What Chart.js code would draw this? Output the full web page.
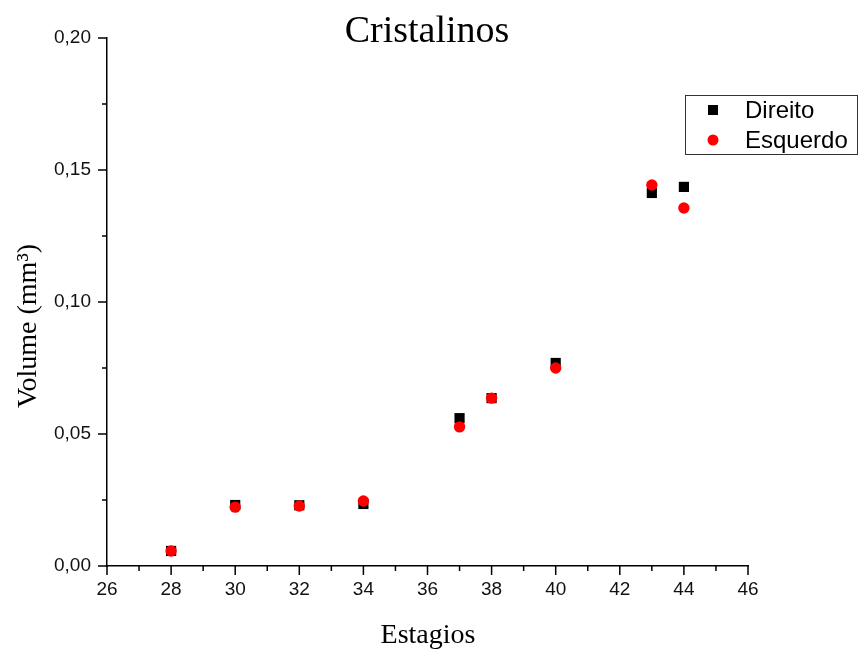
<!DOCTYPE html>
<html>
<head>
<meta charset="utf-8">
<title>Cristalinos</title>
<script src="https://cdn.jsdelivr.net/npm/chart.js"></script>
<style>
  html, body { margin:0; padding:0; background:#fff; }
  #wrap { width:859px; height:655px; position:relative; }
</style>
</head>
<body>
<div id="wrap"><canvas id="chart"></canvas></div>
<script>
// estagios e volumes
const estagios = [28, 30, 32, 34, 37, 38, 40, 43, 44];
const direito  = [0.0057, 0.0231, 0.0230, 0.0235, 0.0560, 0.0636, 0.0769, 0.1413, 0.1436];
const esquerdo = [0.0057, 0.0223, 0.0227, 0.0246, 0.0527, 0.0636, 0.0750, 0.1443, 0.1356];

const xTicks = [26, 28, 30, 32, 34, 36, 38, 40, 42, 44, 46];
const yTicks = [0, 0.05, 0.10, 0.15, 0.20];

const toPts = vals => estagios.map((x, i) => ({ x: x, y: vals[i] }));

const serif = "'Liberation Serif', 'Times New Roman', serif";
const sans = "'Liberation Sans', Arial, sans-serif";

// titulos, ticks (maiores e menores) e legenda
const extras = {
  id: 'extras',
  afterDraw(chart) {
    const ctx = chart.ctx;
    const xs = chart.scales.x, ys = chart.scales.y;
    const area = chart.chartArea;
    ctx.save();
    ctx.strokeStyle = '#000';
    ctx.lineWidth = 1.5;
    ctx.beginPath();
    for (let v = 26; v <= 46; v += 1) {
      const px = xs.getPixelForValue(v);
      const len = v % 2 === 0 ? 9 : 5;
      ctx.moveTo(px, area.bottom);
      ctx.lineTo(px, area.bottom + len);
    }
    for (let k = 0; k <= 8; k++) {
      const py = ys.getPixelForValue(k * 0.025);
      const len = k % 2 === 0 ? 9 : 5;
      ctx.moveTo(area.left, py);
      ctx.lineTo(area.left - len, py);
    }
    ctx.stroke();

    ctx.fillStyle = '#000';
    ctx.textAlign = 'center';
    ctx.textBaseline = 'alphabetic';
    ctx.font = '38px ' + serif;
    ctx.fillText('Cristalinos', 427, 42);
    ctx.font = '28px ' + serif;
    ctx.fillText('Estagios', 428, 643);
    ctx.translate(36, 326);
    ctx.rotate(-Math.PI / 2);
    ctx.fillText('Volume (mm\u00B3)', 0, 0);
    ctx.restore();

    // legenda
    ctx.save();
    ctx.fillStyle = '#fff';
    ctx.fillRect(685, 95, 173, 60);
    ctx.strokeStyle = '#333';
    ctx.lineWidth = 1;
    ctx.strokeRect(685.5, 95.5, 172, 59);
    ctx.font = '24px ' + sans;
    ctx.textAlign = 'left';
    ctx.textBaseline = 'middle';
    chart.data.datasets.forEach((ds, i) => {
      const cy = 110 + i * 30;
      ctx.fillStyle = ds.backgroundColor;
      if (ds.pointStyle === 'rect') {
        ctx.fillRect(708, cy - 5, 10, 10);
      } else {
        ctx.beginPath();
        ctx.arc(713, cy, 5.5, 0, Math.PI * 2);
        ctx.fill();
      }
      ctx.fillStyle = '#000';
      ctx.fillText(ds.label, 745, cy + 1);
    });
    ctx.restore();
  }
};

new Chart(document.getElementById('chart'), {
  type: 'scatter',
  data: {
    datasets: [
      { label: 'Direito', data: toPts(direito), pointStyle: 'rect', order: 1,
        backgroundColor: '#000', borderColor: '#000', borderWidth: 0, pointRadius: 7.2 },
      { label: 'Esquerdo', data: toPts(esquerdo), pointStyle: 'circle', order: 0,
        backgroundColor: '#f00', borderColor: '#f00', borderWidth: 0, pointRadius: 5.7 }
    ]
  },
  plugins: [extras],
  options: {
    responsive: true,
    maintainAspectRatio: false,
    animation: false,
    layout: { padding: { left: 0, right: 111, top: 38, bottom: 0 } },
    plugins: { legend: { display: false }, tooltip: { enabled: false }, title: { display: false } },
    scales: {
      x: {
        type: 'linear', min: 26, max: 46,
        afterBuildTicks: s => { s.ticks = xTicks.map(v => ({ value: v })); },
        afterFit: s => { s.height = 89; },
        grid: { display: false },
        border: { display: true, color: '#000', width: 1.5 },
        ticks: { padding: 4, color: '#111', font: { family: sans, size: 19 }, maxRotation: 0 }
      },
      y: {
        type: 'linear', min: 0, max: 0.2,
        afterBuildTicks: s => { s.ticks = yTicks.map(v => ({ value: v })); },
        afterFit: s => { s.width = 107; },
        grid: { display: false },
        border: { display: true, color: '#000', width: 1.5 },
        ticks: { padding: 8, color: '#111', font: { family: sans, size: 19 },
          callback: v => v.toFixed(2).replace('.', ',') }
      }
    }
  }
});
</script>
</body>
</html>
